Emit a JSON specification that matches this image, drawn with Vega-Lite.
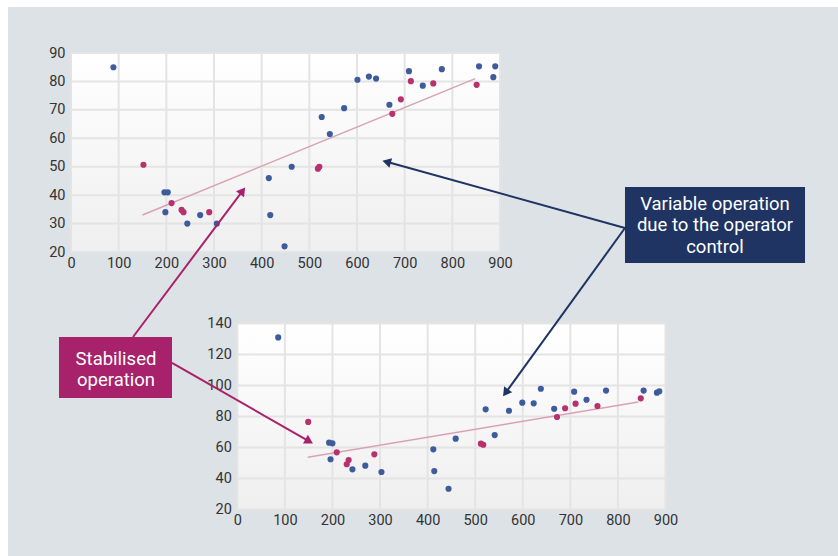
{
  "$schema": "https://vega.github.io/schema/vega-lite/v6.json",
  "width": 830,
  "height": 549,
  "autosize": "none",
  "padding": {"left": 8, "top": 7, "right": 0, "bottom": 0},
  "background": "#ffffff",
  "view": {"fill": "#dde2e6", "stroke": null},
  "config": {
    "font": "Roboto",
    "axis": {
      "grid": false,
      "domain": false,
      "ticks": false,
      "labelFont": "Roboto",
      "labelFontSize": 14.5,
      "labelColor": "#333333",
      "labelFlush": false,
      "labelOverlap": false,
      "title": null
    },
    "axisX": {"labelPadding": 4},
    "axisY": {"labelPadding": 6}
  },
  "datasets": {
    "xGrid": [{"v": 0}, {"v": 100}, {"v": 200}, {"v": 300}, {"v": 400}, {"v": 500}, {"v": 600}, {"v": 700}, {"v": 800}, {"v": 900}],
    "topYGrid": [{"v": 20}, {"v": 30}, {"v": 40}, {"v": 50}, {"v": 60}, {"v": 70}, {"v": 80}, {"v": 90}],
    "bottomYGrid": [{"v": 20}, {"v": 40}, {"v": 60}, {"v": 80}, {"v": 100}, {"v": 120}, {"v": 140}],
    "top": [
      {"x": 89, "y": 85, "type": "variable"},
      {"x": 196, "y": 41, "type": "variable"},
      {"x": 203, "y": 41, "type": "variable"},
      {"x": 198, "y": 34, "type": "variable"},
      {"x": 244, "y": 30, "type": "variable"},
      {"x": 271, "y": 33, "type": "variable"},
      {"x": 306, "y": 30, "type": "variable"},
      {"x": 415, "y": 46, "type": "variable"},
      {"x": 418, "y": 33, "type": "variable"},
      {"x": 448, "y": 22, "type": "variable"},
      {"x": 463, "y": 50, "type": "variable"},
      {"x": 526, "y": 67.5, "type": "variable"},
      {"x": 543, "y": 61.5, "type": "variable"},
      {"x": 573, "y": 70.6, "type": "variable"},
      {"x": 601, "y": 80.6, "type": "variable"},
      {"x": 625, "y": 81.7, "type": "variable"},
      {"x": 640, "y": 81, "type": "variable"},
      {"x": 668, "y": 71.8, "type": "variable"},
      {"x": 709, "y": 83.6, "type": "variable"},
      {"x": 738, "y": 78.5, "type": "variable"},
      {"x": 778, "y": 84.3, "type": "variable"},
      {"x": 856, "y": 85.3, "type": "variable"},
      {"x": 890, "y": 85.3, "type": "variable"},
      {"x": 886, "y": 81.5, "type": "variable"},
      {"x": 152, "y": 50.7, "type": "stable"},
      {"x": 211, "y": 37.2, "type": "stable"},
      {"x": 232, "y": 34.8, "type": "stable"},
      {"x": 236, "y": 34.0, "type": "stable"},
      {"x": 290, "y": 34, "type": "stable"},
      {"x": 518, "y": 49.3, "type": "stable"},
      {"x": 521, "y": 50, "type": "stable"},
      {"x": 674, "y": 68.6, "type": "stable"},
      {"x": 692, "y": 73.7, "type": "stable"},
      {"x": 713, "y": 80.1, "type": "stable"},
      {"x": 760, "y": 79.3, "type": "stable"},
      {"x": 851, "y": 78.8, "type": "stable"}
    ],
    "topTrend": [{"x": 150, "y": 33}, {"x": 848, "y": 81}],
    "bottom": [
      {"x": 86, "y": 131, "type": "variable"},
      {"x": 193, "y": 63.1, "type": "variable"},
      {"x": 200, "y": 62.7, "type": "variable"},
      {"x": 196, "y": 52.4, "type": "variable"},
      {"x": 242, "y": 45.9, "type": "variable"},
      {"x": 269, "y": 48.3, "type": "variable"},
      {"x": 303, "y": 44.2, "type": "variable"},
      {"x": 412, "y": 58.8, "type": "variable"},
      {"x": 414, "y": 44.8, "type": "variable"},
      {"x": 444, "y": 33.4, "type": "variable"},
      {"x": 459, "y": 65.7, "type": "variable"},
      {"x": 522, "y": 84.6, "type": "variable"},
      {"x": 541, "y": 68, "type": "variable"},
      {"x": 571, "y": 83.7, "type": "variable"},
      {"x": 599, "y": 88.9, "type": "variable"},
      {"x": 623, "y": 88.5, "type": "variable"},
      {"x": 638, "y": 97.9, "type": "variable"},
      {"x": 666, "y": 85, "type": "variable"},
      {"x": 708, "y": 96, "type": "variable"},
      {"x": 734, "y": 90.8, "type": "variable"},
      {"x": 775, "y": 96.7, "type": "variable"},
      {"x": 854, "y": 96.7, "type": "variable"},
      {"x": 882, "y": 95.4, "type": "variable"},
      {"x": 887, "y": 96.3, "type": "variable"},
      {"x": 149, "y": 76.5, "type": "stable"},
      {"x": 209, "y": 56.9, "type": "stable"},
      {"x": 230, "y": 49.2, "type": "stable"},
      {"x": 234, "y": 51.9, "type": "stable"},
      {"x": 288, "y": 55.6, "type": "stable"},
      {"x": 512, "y": 62.5, "type": "stable"},
      {"x": 517, "y": 61.8, "type": "stable"},
      {"x": 672, "y": 79.7, "type": "stable"},
      {"x": 689, "y": 85.3, "type": "stable"},
      {"x": 711, "y": 88.3, "type": "stable"},
      {"x": 757, "y": 86.8, "type": "stable"},
      {"x": 848, "y": 91.7, "type": "stable"}
    ],
    "bottomTrend": [{"x": 148, "y": 53.7}, {"x": 843, "y": 89.4}],
    "boxes": [
      {"kind": "variable", "x": 1162.2, "x2": 1539.9, "y": 42.86, "y2": 16.13, "cx": 1351, "cy": 36.9, "label": "Variable operation|due to the operator|control"},
      {"kind": "stable", "x": -25.2, "x2": 211.9, "y": -9.9, "y2": -31.36, "cx": 94.4, "cy": -17.6, "label": "Stabilised|operation"}
    ],
    "arrows": [
      {"kind": "variable", "x": 1162.2, "y": 28.44, "x2": 662.1, "y2": 51.73, "angle": 285.5},
      {"kind": "variable", "x": 1162.2, "y": 28.44, "x2": 911.8, "y2": -29.53, "angle": 215.9},
      {"kind": "stable", "x": 130.1, "y": -9.9, "x2": 360.0, "y2": 41.49, "angle": 36.9},
      {"kind": "stable", "x": 211.9, "y": -19.04, "x2": 499.7, "y2": -46.59, "angle": 119.7}
    ]
  },
  "layer": [
    {
      "layer": [
        {
          "data": {"values": [{}]},
          "mark": {"type": "rect", "fill": {"gradient": "linear", "x1": 0, "y1": 0, "x2": 0, "y2": 1, "stops": [{"offset": 0, "color": "#ffffff"}, {"offset": 1, "color": "#efefef"}]}},
          "encoding": {
            "x": {"datum": 0, "type": "quantitative", "scale": {"domain": [0, 900], "range": [63, 492], "nice": false, "zero": false},
                  "axis": {"orient": "bottom", "offset": -304, "values": [0, 100, 200, 300, 400, 500, 600, 700, 800, 900]}},
            "x2": {"datum": 900},
            "y": {"datum": 20, "type": "quantitative", "scale": {"domain": [20, 90], "range": [245, 46], "nice": false, "zero": false},
                  "axis": {"orient": "left", "offset": -63, "values": [20, 30, 40, 50, 60, 70, 80, 90]}},
            "y2": {"datum": 90}
          }
        },
        {
          "data": {"name": "xGrid"},
          "mark": {"type": "rule", "color": "#e4e4e4", "strokeWidth": 2},
          "encoding": {"x": {"field": "v", "type": "quantitative"}, "y": {"datum": 20}, "y2": {"datum": 90}}
        },
        {
          "data": {"name": "topYGrid"},
          "mark": {"type": "rule", "color": "#e4e4e4", "strokeWidth": 2},
          "encoding": {"y": {"field": "v", "type": "quantitative"}, "x": {"datum": 0}, "x2": {"datum": 900}}
        },
        {
          "data": {"name": "topTrend"},
          "mark": {"type": "line", "color": "#d8a2b4", "strokeWidth": 1.5},
          "encoding": {"x": {"field": "x", "type": "quantitative"}, "y": {"field": "y", "type": "quantitative"}}
        },
        {
          "data": {"name": "top"},
          "mark": {"type": "circle", "size": 38, "opacity": 1},
          "encoding": {
            "x": {"field": "x", "type": "quantitative"},
            "y": {"field": "y", "type": "quantitative"},
            "color": {"field": "type", "type": "nominal", "scale": {"domain": ["stable", "variable"], "range": ["#b8306e", "#3e5b9b"]}, "legend": null}
          }
        }
      ]
    },
    {
      "layer": [
        {
          "data": {"values": [{}]},
          "mark": {"type": "rect", "fill": {"gradient": "linear", "x1": 0, "y1": 0, "x2": 0, "y2": 1, "stops": [{"offset": 0, "color": "#ffffff"}, {"offset": 1, "color": "#efefef"}]}},
          "encoding": {
            "x": {"datum": 0, "type": "quantitative", "scale": {"domain": [0, 900], "range": [229.3, 657.5], "nice": false, "zero": false},
                  "axis": {"orient": "bottom", "offset": -46.5, "values": [0, 100, 200, 300, 400, 500, 600, 700, 800, 900]}},
            "x2": {"datum": 900},
            "y": {"datum": 20, "type": "quantitative", "scale": {"domain": [20, 140], "range": [502.5, 316.5], "nice": false, "zero": false},
                  "axis": {"orient": "left", "offset": -229.3, "values": [20, 40, 60, 80, 100, 120, 140]}},
            "y2": {"datum": 140}
          }
        },
        {
          "data": {"name": "xGrid"},
          "mark": {"type": "rule", "color": "#e4e4e4", "strokeWidth": 2},
          "encoding": {"x": {"field": "v", "type": "quantitative"}, "y": {"datum": 20}, "y2": {"datum": 140}}
        },
        {
          "data": {"name": "bottomYGrid"},
          "mark": {"type": "rule", "color": "#e4e4e4", "strokeWidth": 2},
          "encoding": {"y": {"field": "v", "type": "quantitative"}, "x": {"datum": 0}, "x2": {"datum": 900}}
        },
        {
          "data": {"name": "bottomTrend"},
          "mark": {"type": "line", "color": "#d8a2b4", "strokeWidth": 1.5},
          "encoding": {"x": {"field": "x", "type": "quantitative"}, "y": {"field": "y", "type": "quantitative"}}
        },
        {
          "data": {"name": "bottom"},
          "mark": {"type": "circle", "size": 38, "opacity": 1},
          "encoding": {
            "x": {"field": "x", "type": "quantitative"},
            "y": {"field": "y", "type": "quantitative"},
            "color": {"field": "type", "type": "nominal", "scale": {"domain": ["stable", "variable"], "range": ["#b8306e", "#3e5b9b"]}, "legend": null}
          }
        }
      ]
    },
    {
      "layer": [
        {
          "data": {"name": "boxes"},
          "mark": {"type": "rect"},
          "encoding": {
            "x": {"field": "x", "type": "quantitative", "scale": {"domain": [0, 900], "range": [63, 492], "nice": false, "zero": false}, "axis": null},
            "x2": {"field": "x2"},
            "y": {"field": "y", "type": "quantitative", "scale": {"domain": [20, 90], "range": [245, 46], "nice": false, "zero": false}, "axis": null},
            "y2": {"field": "y2"},
            "fill": {"field": "kind", "type": "nominal", "scale": {"domain": ["stable", "variable"], "range": ["#a8216b", "#1f3462"]}, "legend": null}
          }
        },
        {
          "data": {"name": "boxes"},
          "mark": {"type": "text", "color": "#ffffff", "font": "Roboto", "fontSize": 18.5, "lineHeight": 21.5, "lineBreak": "|", "align": "center", "baseline": "middle"},
          "encoding": {
            "x": {"field": "cx", "type": "quantitative"},
            "y": {"field": "cy", "type": "quantitative"},
            "text": {"field": "label", "type": "nominal"}
          }
        },
        {
          "data": {"name": "arrows"},
          "mark": {"type": "rule", "strokeWidth": 2},
          "encoding": {
            "x": {"field": "x", "type": "quantitative"},
            "y": {"field": "y", "type": "quantitative"},
            "x2": {"field": "x2"},
            "y2": {"field": "y2"},
            "stroke": {"field": "kind", "type": "nominal", "scale": {"domain": ["stable", "variable"], "range": ["#a8216b", "#1f3462"]}, "legend": null}
          }
        },
        {
          "data": {"name": "arrows"},
          "mark": {"type": "point", "shape": "triangle-up", "filled": true, "size": 100, "opacity": 1},
          "encoding": {
            "x": {"field": "x2", "type": "quantitative"},
            "y": {"field": "y2", "type": "quantitative"},
            "angle": {"field": "angle", "type": "quantitative", "scale": null},
            "fill": {"field": "kind", "type": "nominal", "scale": {"domain": ["stable", "variable"], "range": ["#a8216b", "#1f3462"]}, "legend": null}
          }
        }
      ]
    }
  ],
  "resolve": {"scale": {"x": "independent", "y": "independent"}, "axis": {"x": "independent", "y": "independent"}}
}
